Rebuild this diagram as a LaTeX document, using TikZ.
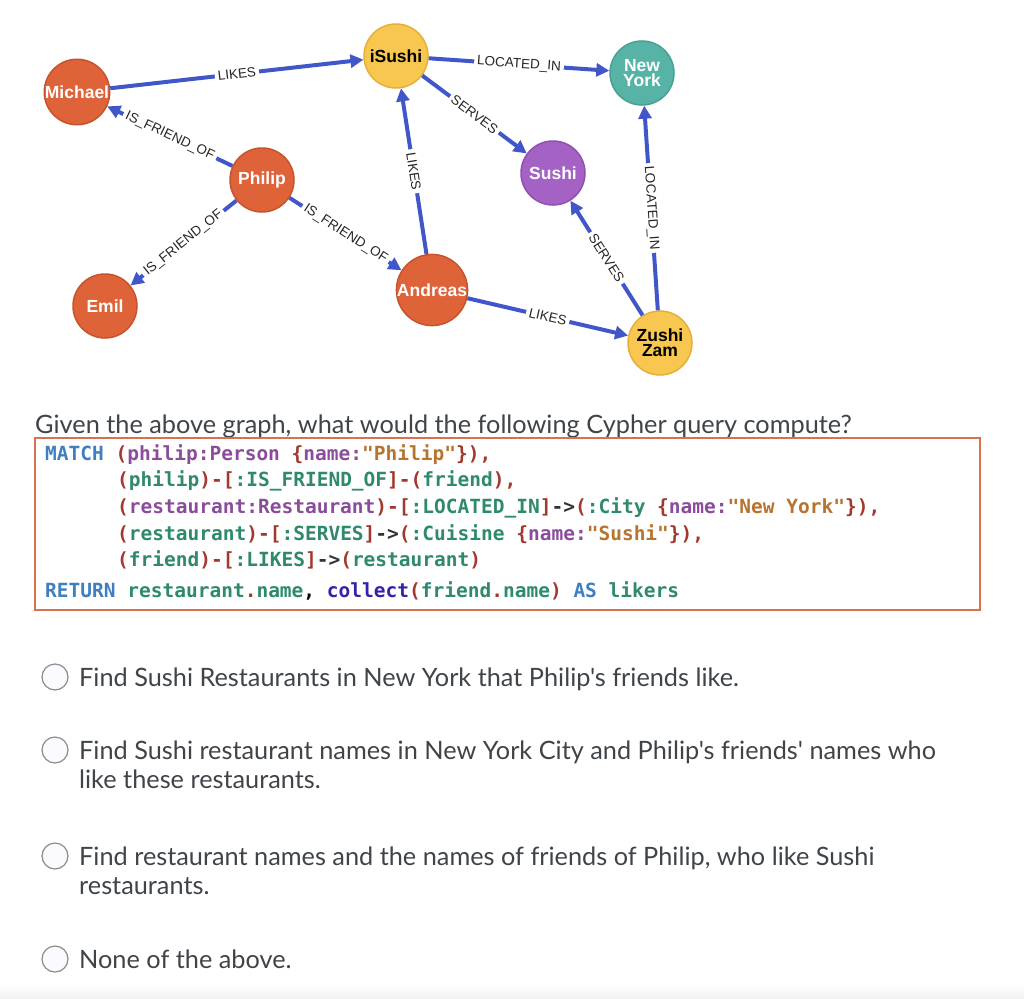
\documentclass[tikz,border=0pt]{standalone}
\usepackage{fontspec}
\usepackage{tikz}
\usetikzlibrary{arrows.meta}
\newfontfamily\graphfont{Liberation Sans}
\newfontfamily\quizfont{Lato}
\newfontfamily\codefont{DejaVu Sans Mono}
\definecolor{personfill}{HTML}{DE6339}
\definecolor{personline}{HTML}{C7532D}
\definecolor{placefill}{HTML}{F7C74F}
\definecolor{placeline}{HTML}{E6AF3B}
\definecolor{cityfill}{HTML}{57B3A6}
\definecolor{cityline}{HTML}{48A094}
\definecolor{cuisinefill}{HTML}{A462C4}
\definecolor{cuisineline}{HTML}{9050B0}
\definecolor{relblue}{HTML}{4157C9}
\definecolor{quiztext}{HTML}{3F4449}
\definecolor{codebox}{HTML}{D9704F}
\definecolor{cqblue}{HTML}{3F7FBF}
\definecolor{cqred}{HTML}{A3392E}
\definecolor{cqpurple}{HTML}{8A4C9B}
\definecolor{cqorange}{HTML}{B8732E}
\definecolor{cqgreen}{HTML}{2F8A6B}
\definecolor{cqindigo}{HTML}{3322AA}
\newcommand{\cqkey}[1]{\textcolor{cqblue}{#1}}
\newcommand{\cqpun}[1]{\textcolor{cqred}{#1}}
\newcommand{\cqlab}[1]{\textcolor{cqpurple}{#1}}
\newcommand{\cqstr}[1]{\textcolor{cqorange}{#1}}
\newcommand{\cqvar}[1]{\textcolor{cqgreen}{#1}}
\newcommand{\cqfun}[1]{\textcolor{cqindigo}{#1}}
\newcommand{\cqarr}{\textcolor{black!80}{->}}

\begin{document}
\begin{tikzpicture}[x=1pt,y=-1pt,
		gnode/.style={circle,minimum size=64pt,inner sep=0pt,line width=1.5pt,align=center,
			font=\graphfont\bfseries\fontsize{17.5}{15}\selectfont},
		person/.style={gnode,fill=personfill,draw=personline,text=white},
		place/.style={gnode,fill=placefill,draw=placeline,text=black},
		city/.style={gnode,fill=cityfill,draw=cityline,text=white},
		cuisine/.style={gnode,fill=cuisinefill,draw=cuisineline,text=white},
		rel/.style={draw=relblue,line width=4pt,-{Triangle[length=13pt,width=13pt]}},
		rellabel/.style={midway,sloped,fill=white,inner xsep=3pt,inner ysep=1pt,text=black!85,
			font=\graphfont\fontsize{13.5}{13.5}\selectfont},
		codeline/.style={anchor=base west,inner sep=0pt,font=\codefont\bfseries\fontsize{19.5}{26}\selectfont},
		quizline/.style={anchor=base west,inner sep=0pt,text=quiztext,font=\quizfont\fontsize{25.3}{29}\selectfont},
		radio/.style={circle,minimum size=26pt,inner sep=0pt,draw=black!45,line width=1.2pt,fill=blue!2!white}]
	\useasboundingbox (0,0) rectangle (1024,998);
	\shade[top color=white,bottom color=black!5] (0,984) rectangle (1024,998);

	% graph
	\node[person] (michael) at (77,92) {Michael};
	\node[place] (isushi) at (396,56) {iSushi};
	\node[city] (newyork) at (642,73) {New\\York};
	\node[person] (philip) at (262,180) {Philip};
	\node[cuisine] (sushi) at (553,173) {Sushi};
	\node[person] (emil) at (105,306) {Emil};
	\node[person] (andreas) at (432,290) {Andreas};
	\node[place] (zushi) at (660,343) {Zushi\\Zam};

	\draw[rel] (michael) -- (isushi) node[rellabel] (l1) {LIKES};
	\draw[rel] (philip) -- (michael) node[rellabel] (l2) {IS\_FRIEND\_OF};
	\draw[rel] (philip) -- (emil) node[rellabel] (l3) {IS\_FRIEND\_OF};
	\draw[rel] (philip) -- (andreas) node[rellabel] (l4) {IS\_FRIEND\_OF};
	\draw[rel] (andreas) -- (isushi) node[rellabel] (l5) {LIKES};
	\draw[rel] (isushi) -- (newyork) node[rellabel] (l6) {LOCATED\_IN};
	\draw[rel] (isushi) -- (sushi) node[rellabel] (l7) {SERVES};
	\draw[rel] (zushi) -- (sushi) node[rellabel] (l8) {SERVES};
	\draw[rel] (zushi) -- (newyork) node[rellabel] (l9) {LOCATED\_IN};
	\draw[rel] (andreas) -- (zushi) node[rellabel] (l10) {LIKES};

	% question and query
	\node[quizline] (question) at (35,433) {Given the above graph, what would the following Cypher query compute?};
	\draw[codebox,line width=1.5pt] (35,438) rectangle (980,610);
	\node[codeline] (code1) at (45,460) {\cqkey{MATCH} \cqpun{(}\cqlab{philip:Person} \cqpun{\{}\cqlab{name:}\cqstr{"Philip"}\cqpun{\}),}};
	\node[codeline] (code2) at (117,486.5) {\cqpun{(}\cqvar{philip}\cqpun{)-[}\cqvar{:IS\_FRIEND\_OF}\cqpun{]-(}\cqvar{friend}\cqpun{),}};
	\node[codeline] (code3) at (117,513) {\cqpun{(}\cqlab{restaurant:Restaurant}\cqpun{)-[}\cqvar{:LOCATED\_IN}\cqpun{]}\cqarr\cqpun{(}\cqvar{:City} \cqpun{\{}\cqlab{name:}\cqstr{"New York"}\cqpun{\}),}};
	\node[codeline] (code4) at (117,540) {\cqpun{(}\cqvar{restaurant}\cqpun{)-[}\cqvar{:SERVES}\cqpun{]}\cqarr\cqpun{(}\cqvar{:Cuisine} \cqpun{\{}\cqlab{name:}\cqstr{"Sushi"}\cqpun{\}),}};
	\node[codeline] (code5) at (117,566.5) {\cqpun{(}\cqvar{friend}\cqpun{)-[}\cqvar{:LIKES}\cqpun{]}\cqarr\cqpun{(}\cqvar{restaurant}\cqpun{)}};
	\node[codeline] (code6) at (45,597) {\cqkey{RETURN} \cqvar{restaurant}\cqpun{.}\cqvar{name}, \cqfun{collect}\cqpun{(}\cqvar{friend}\cqpun{.}\cqvar{name}\cqpun{)} \cqkey{AS} \cqvar{likers}};

	% answer options
	\foreach \y/\name in {677/r1, 750/r2, 856/r3, 959/r4}
		\node[radio] (\name) at (55,\y) {};
	\node[quizline] (opt1) at (79,686) {Find Sushi Restaurants in New York that Philip's friends like.};
	\node[quizline] (opt2a) at (79,759) {Find Sushi restaurant names in New York City and Philip's friends' names who};
	\node[quizline] (opt2b) at (79,788) {like these restaurants.};
	\node[quizline] (opt3a) at (79,865) {Find restaurant names and the names of friends of Philip, who like Sushi};
	\node[quizline] (opt3b) at (79,894) {restaurants.};
	\node[quizline] (opt4) at (79,968) {None of the above.};
\end{tikzpicture}
\end{document}
